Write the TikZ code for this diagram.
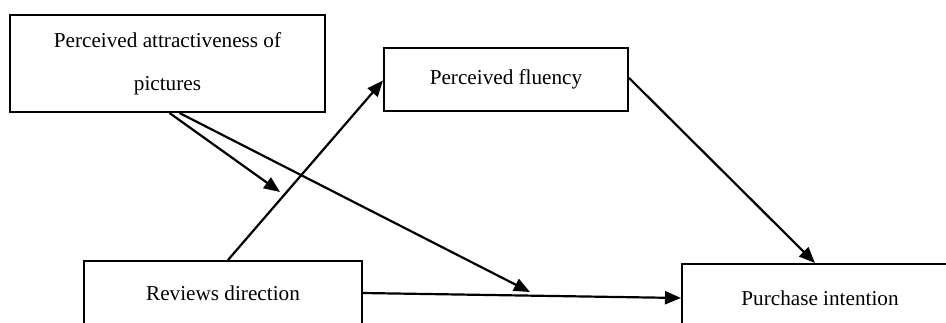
\documentclass[tikz,border=0pt]{standalone}
\usepackage{fontspec}
\setmainfont{Liberation Serif}
\usepackage{tikz}
\usetikzlibrary{arrows.meta,positioning}
\tikzset{var box/.style={draw,line width=1pt,rectangle,inner sep=0pt,font=\fontsize{10.6}{21.5}\selectfont,align=center},
	path arrow/.style={line width=1.1pt,arrows={-Triangle[length=8pt,width=6.5pt]}}}

\begin{document}
\begin{tikzpicture}[x=0.5pt,y=-0.5pt]
			\useasboundingbox (0,0) rectangle (946,322);
			\clip (0,0) rectangle (946,322);
			
			\node[var box, minimum width=157.5pt, minimum height=48.5pt] (attr) at (167.5,63.5) {Perceived attractiveness of\\pictures};
			\node[var box, minimum width=122pt, minimum height=31.5pt] (flu) at (506,79.5) {Perceived fluency};
			\node[var box, minimum width=139pt, minimum height=32pt] (rev) at (223,293) {Reviews direction};
			\node[var box, minimum width=138pt, minimum height=34pt] (pur) at (820,298) {Purchase intention};
			
			% free ends of the two arrows from the pictures box
			\coordinate (tipA) at (280,192);
			\coordinate (tipB) at (530,292);
			
			\draw[path arrow] ([xshift=1pt]attr.south) -- (tipA);
			\draw[path arrow] ([xshift=6pt]attr.south) -- (tipB);
			\draw[path arrow] ([xshift=2.5pt]rev.north) -- ([yshift=-0.5pt]flu.west);
			\draw[path arrow] ([yshift=0.8pt]flu.east) -- (815,263);
			\draw[path arrow] (rev.east) -- (pur.west);
		\end{tikzpicture}
\end{document}
